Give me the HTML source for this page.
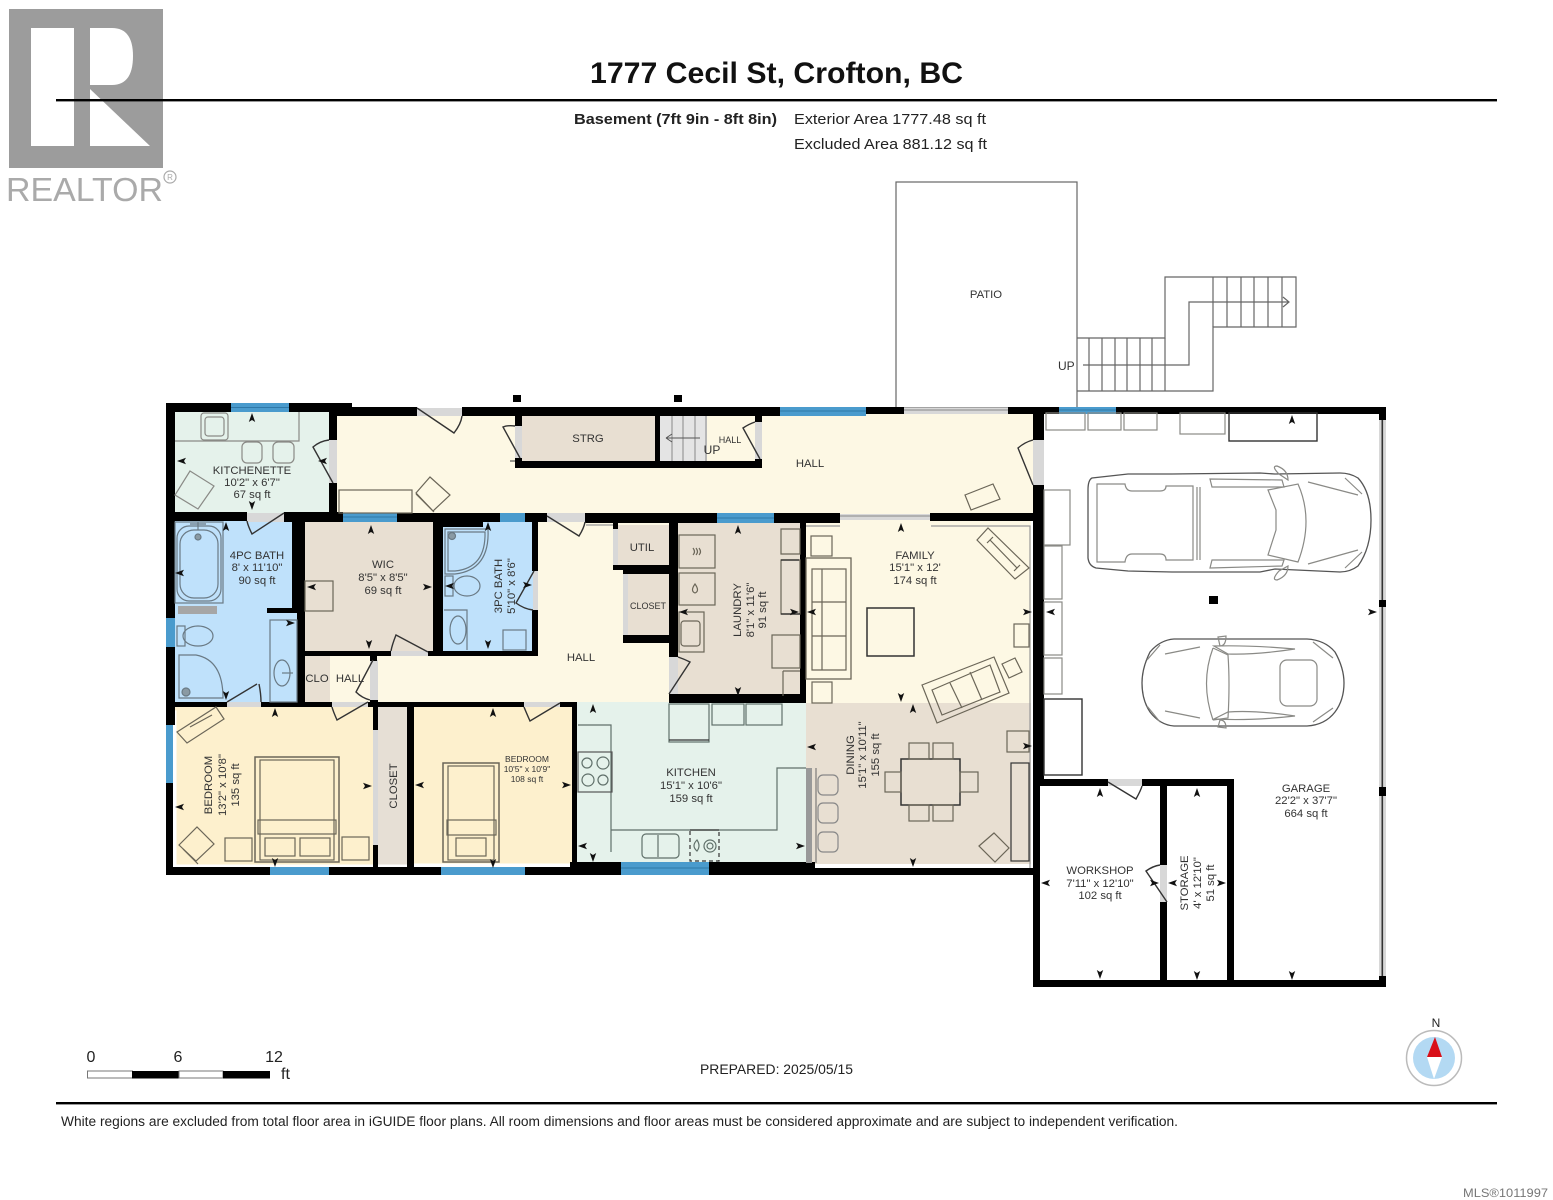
<!DOCTYPE html>
<html><head><meta charset="utf-8"><style>
html,body{margin:0;padding:0;background:#fff;width:1553px;height:1200px;overflow:hidden}
svg{display:block}
text{font-family:"Liberation Sans",sans-serif;fill:#333}
.l{font-size:11.3px;text-anchor:middle}
.f{fill:none;stroke:#6b6658;stroke-width:1.2}
.g{fill:none;stroke:#8a8a86;stroke-width:1.2}
.d{fill:none;stroke:#333;stroke-width:1.4}
.c{fill:none;stroke:#555;stroke-width:1.3}
.w{fill:#000}
.gl{fill:#4a9bcd}
.gy{fill:#d8d8d8}
</style></head><body>
<svg width="1553" height="1200" viewBox="0 0 1553 1200" xmlns="http://www.w3.org/2000/svg">
<defs><path id="a" d="M0,-5L3.2,4L0,2L-3.2,4Z" fill="#111"/></defs>
<rect x="0" y="0" width="1553" height="1200" fill="#fff"/>
<!-- logo -->
<rect x="9" y="9" width="154" height="159" fill="#9c9c9c"/>
<rect x="31" y="28" width="43" height="118" fill="#fff"/>
<path d="M90,28H112Q133,28 133,56Q133,85 112,85H90Z" fill="#fff"/>
<path d="M90,89L150,146H90Z" fill="#fff"/>
<text x="6" y="201" font-size="33" style="fill:#aaa" textLength="157" lengthAdjust="spacingAndGlyphs">REALTOR</text>
<circle cx="170" cy="177" r="6" fill="none" stroke="#aaa" stroke-width="1.2"/>
<text x="170" y="180" font-size="8" text-anchor="middle" style="fill:#aaa">R</text>
<!-- header -->
<text x="776.5" y="83" font-size="29.5" font-weight="bold" text-anchor="middle" style="fill:#111" textLength="373" lengthAdjust="spacingAndGlyphs">1777 Cecil St, Crofton, BC</text>
<rect x="56" y="99" width="1441" height="2.4" fill="#000"/>
<text x="574" y="124" font-size="14.5" font-weight="bold" style="fill:#222" textLength="203" lengthAdjust="spacingAndGlyphs">Basement (7ft 9in - 8ft 8in)</text>
<text x="794" y="124" font-size="14.5" style="fill:#222" textLength="192" lengthAdjust="spacingAndGlyphs">Exterior Area 1777.48 sq ft</text>
<text x="794" y="149" font-size="14.5" style="fill:#222" textLength="193" lengthAdjust="spacingAndGlyphs">Excluded Area 881.12 sq ft</text>
<!-- patio and stairs -->
<rect x="896" y="182" width="181" height="226" fill="#fff" stroke="#666" stroke-width="1.2"/>
<text x="986" y="298" class="l" font-size="11.5">PATIO</text>
<g fill="none" stroke="#666" stroke-width="1.2">
<path d="M1077,338H1165V277H1296V327H1213V391H1077"/>
<path d="M1089,338V391M1102,338V391M1115,338V391M1127,338V391M1140,338V391M1152,338V391M1165,338V391"/>
<path d="M1213,277V327M1227,277V327M1241,277V327M1254,277V327M1268,277V327M1282,277V327"/>
<path d="M1083,365H1189V302H1288M1283,297L1289,302L1283,307"/>
</g>
<text x="1058" y="370" font-size="12">UP</text>
<!-- room fills -->
<g>
<rect x="175" y="412" width="156" height="102" fill="#e5f2eb"/>
<rect x="337" y="414" width="696" height="101" fill="#fdf8e4"/>
<rect x="521" y="416" width="134" height="46" fill="#e8dfd2"/>
<rect x="660" y="416" width="47" height="46" fill="#e4e4e4"/>
<rect x="175" y="520" width="118" height="184" fill="#bfe1fb"/>
<rect x="262" y="612" width="36" height="92" fill="#bfe1fb"/>
<rect x="304" y="522" width="130" height="130" fill="#e8dfd2"/>
<rect x="443" y="521" width="90" height="131" fill="#bfe1fb"/>
<rect x="537" y="520" width="134" height="184" fill="#fdf8e4"/>
<rect x="376" y="655" width="200" height="48" fill="#fdf8e4"/>
<rect x="305" y="655" width="25" height="48" fill="#e8dfd2"/>
<rect x="330" y="655" width="42" height="48" fill="#fdf8e4"/>
<rect x="175" y="706" width="199" height="161" fill="#fdf0cd"/>
<rect x="378" y="706" width="31" height="162" fill="#e6dfd5"/>
<rect x="413" y="706" width="160" height="159" fill="#fdf0cd"/>
<rect x="576" y="702" width="232" height="162" fill="#e5f2eb"/>
<rect x="806" y="703" width="225" height="161" fill="#e8dfd2"/>
<rect x="804" y="520" width="227" height="183" fill="#fdf8e4"/>
<rect x="676" y="523" width="126" height="175" fill="#e8dfd2"/>
<rect x="617" y="525" width="53" height="42" fill="#e8dfd2"/>
<rect x="627" y="572" width="43" height="66" fill="#e8dfd2"/>
</g>
<!-- white strips by bedroom walls -->
<path d="M173,712H175V866H373" fill="none" stroke="#fff" stroke-width="3"/>
<path d="M414,865H572" stroke="#fff" stroke-width="3"/>
<path d="M378,866H408" stroke="#fff" stroke-width="3"/>
<!-- door swing grey thresholds -->
<g class="gy">
<rect x="417" y="408" width="45" height="8"/><rect x="329" y="440" width="8" height="43"/>
<rect x="515" y="426" width="7" height="32"/><rect x="755" y="422" width="7" height="37"/>
<rect x="1033" y="440" width="11" height="45"/><rect x="247" y="513" width="37" height="9"/>
<rect x="547" y="513" width="38" height="9"/><rect x="533" y="571" width="5" height="39"/>
<rect x="391" y="651" width="37" height="5"/><rect x="370" y="660" width="8" height="40"/>
<rect x="227" y="702" width="34" height="5"/><rect x="332" y="702" width="36" height="5"/>
<rect x="524" y="702" width="36" height="5"/><rect x="613" y="529" width="5" height="36"/>
<rect x="623" y="574" width="5" height="61"/><rect x="669" y="657" width="9" height="37"/>
<rect x="1108" y="779" width="34" height="7"/><rect x="1160" y="865" width="7" height="37"/>
<rect x="904" y="408" width="104" height="6"/><rect x="840" y="514" width="90" height="6"/>
<rect x="373" y="730" width="5" height="115"/>
<rect x="1379" y="414" width="7" height="568"/>
</g>
<path d="M904,410H1008M840,516H930" stroke="#888" stroke-width="1"/>
<!-- garage right side -->
<rect x="1381.500" y="414" width="1.6" height="568" fill="#333"/>
<!-- family/dining inner lines -->
<path d="M931,526H1030V868M586,525H616M806,526H840" fill="none" stroke="#999" stroke-width="1.2"/>
<!-- walls -->
<g class="w">
<rect x="166" y="403" width="65" height="9"/><rect x="289" y="403" width="63" height="9"/>
<rect x="330" y="407" width="87" height="9"/><rect x="462" y="407" width="318" height="9"/>
<rect x="866" y="407" width="38" height="7"/><rect x="1008" y="407" width="51" height="7"/>
<rect x="1116" y="407" width="270" height="7"/>
<rect x="1379" y="407" width="7" height="13"/><rect x="1379" y="600" width="7" height="7"/><rect x="1379" y="787" width="7" height="9"/><rect x="1379" y="976" width="7" height="11"/>
<rect x="513" y="395" width="8" height="7"/><rect x="674" y="395" width="8" height="7"/>
<rect x="1209" y="596" width="9" height="8"/>
<!-- left wall -->
<rect x="166" y="403" width="9" height="215"/><rect x="166" y="647" width="9" height="78"/><rect x="166" y="783" width="7" height="92"/>
<!-- bottom -->
<rect x="166" y="867" width="104" height="8"/><rect x="329" y="867" width="112" height="8"/><rect x="525" y="867" width="96" height="8"/>
<rect x="570" y="862" width="51" height="13"/><rect x="709" y="862" width="106" height="13"/><rect x="815" y="868" width="222" height="7"/>
<!-- east wall -->
<rect x="1033" y="407" width="11" height="33"/><rect x="1033" y="485" width="11" height="301"/><rect x="1033" y="786" width="7" height="201"/>
<rect x="1033" y="980" width="353" height="7"/>
<rect x="1040" y="779" width="68" height="7"/><rect x="1142" y="779" width="92" height="7"/>
<rect x="1160" y="786" width="7" height="79"/><rect x="1160" y="902" width="7" height="80"/>
<rect x="1227" y="779" width="7" height="203"/>
<!-- kitchenette right -->
<rect x="329" y="412" width="8" height="28"/><rect x="329" y="483" width="8" height="30"/>
<rect x="175" y="512" width="72" height="9"/><rect x="284" y="512" width="59" height="10"/><rect x="397" y="513" width="103" height="9"/><rect x="525" y="513" width="22" height="9"/>
<rect x="585" y="513" width="132" height="10"/><rect x="774" y="513" width="66" height="10"/><rect x="930" y="513" width="103" height="8"/>
<!-- strg -->
<rect x="515" y="416" width="7" height="10"/><rect x="515" y="458" width="7" height="10"/><rect x="515" y="461" width="247" height="7"/>
<rect x="655" y="416" width="5" height="46"/><rect x="755" y="416" width="7" height="6"/><rect x="755" y="459" width="7" height="6"/>
<!-- 4pc -->
<rect x="292" y="521" width="13" height="92"/><rect x="297" y="612" width="8" height="95"/><rect x="267" y="608" width="30" height="5"/>
<!-- wic -->
<rect x="305" y="651" width="86" height="5"/><rect x="428" y="651" width="110" height="5"/><rect x="433" y="522" width="10" height="134"/>
<rect x="443" y="521" width="40" height="6"/>
<rect x="532" y="522" width="6" height="49"/><rect x="532" y="610" width="6" height="46"/>
<rect x="370" y="656" width="7" height="5"/><rect x="370" y="700" width="8" height="7"/>
<rect x="166" y="702" width="61" height="5"/><rect x="261" y="702" width="71" height="5"/><rect x="368" y="702" width="156" height="5"/><rect x="560" y="702" width="17" height="5"/>
<rect x="373" y="702" width="5" height="28"/><rect x="373" y="845" width="5" height="30"/><rect x="407" y="702" width="7" height="173"/><rect x="572" y="702" width="5" height="173"/>
<!-- laundry -->
<rect x="669" y="523" width="9" height="134"/><rect x="669" y="694" width="136" height="9"/><rect x="800" y="523" width="6" height="180"/>
<rect x="613" y="523" width="5" height="6"/><rect x="613" y="565" width="56" height="5"/><rect x="623" y="570" width="46" height="4"/><rect x="623" y="635" width="46" height="8"/>
</g>
<!-- windows -->
<g class="gl">
<rect x="231" y="403" width="58" height="9"/><rect x="780" y="407" width="86" height="9"/><rect x="1059" y="407" width="57" height="7"/>
<rect x="343" y="513" width="54" height="9"/><rect x="500" y="513" width="25" height="9"/><rect x="717" y="513" width="57" height="10"/>
<rect x="166" y="618" width="9" height="29"/><rect x="166" y="725" width="7" height="58"/>
<rect x="270" y="867" width="59" height="8"/><rect x="441" y="867" width="84" height="8"/><rect x="621" y="862" width="88" height="13"/>
</g>
<path d="M231,407.500H289M780,411H866M1059,410H1116M343,517H397M717,518H774M621,868H709" stroke="#2f78a8" stroke-width="1"/>
<!-- doors -->
<g class="d">
<path d="M417,408L454,433Q461,424 462,416"/>
<path d="M333,483L313,447Q320,441 329,440"/>
<path d="M520,458L503,427Q508,425 515,426"/>
<path d="M760,459L743,428Q749,424 755,422"/>
<path d="M1033,485L1018,448Q1025,442 1033,440"/>
<path d="M284,513L252,534Q248,526 247,521"/>
<path d="M547,516L579,536Q584,528 585,522"/>
<path d="M534,571L516,603Q524,609 533,610"/>
<path d="M428,652L396,635Q392,645 391,651"/>
<path d="M373,660L356,692Q362,698 370,700"/>
<path d="M257,684L227,702"/><path d="M259,684Q261,694 261,702"/>
<path d="M368,702L337,720Q333,711 332,707"/>
<path d="M560,703L530,721Q526,712 524,707"/>
<path d="M1108,782L1136,799Q1141,790 1142,786"/>
<path d="M1167,902L1146,871Q1153,866 1160,865"/>
<path d="M669,694L690,662Q684,659 678,657"/>
</g>
<!-- stairs interior -->
<g fill="none" stroke="#888" stroke-width="1">
<path d="M672,416V461M683,416V461M695,416V461M706,416V461"/>
<path d="M700,438H666M666,438L672,434M666,438L672,442" stroke="#555"/>
</g>
<path d="M510,461H515" stroke="#333"/>
<!-- kitchenette furniture -->
<g class="g">
<path d="M175,441H299V412"/>
<rect x="201" y="413" width="27" height="27" rx="3"/><rect x="205" y="417" width="19" height="19" rx="3"/>
<rect x="242" y="442" width="20" height="21" rx="5"/><rect x="273" y="442" width="21" height="21" rx="5"/>
<path d="M190,471L214,486L198,509L175,495Z"/>
<rect x="339" y="490" width="73" height="23" stroke="#6b6658"/>
<path d="M416,493L430,477L450,495L433,511Z" stroke="#6b6658"/><path d="M416,494L434,512" stroke="#6b6658"/>
</g>
<!-- 4pc bath furniture -->
<g stroke="#6a7a85" fill="none" stroke-width="1.2">
<rect x="175" y="522" width="48" height="81"/>
<rect x="177" y="526" width="44" height="75" rx="12"/><rect x="180" y="530" width="38" height="68" rx="14"/>
<circle cx="198" cy="537" r="3" fill="#8a9aa4"/>
<path d="M190,524H206M198,522V530"/>
<rect x="270" y="620" width="27" height="82"/>
<ellipse cx="282" cy="673" rx="8" ry="13"/><path d="M282,673H293"/>
<rect x="177" y="626" width="8" height="20"/><ellipse cx="198" cy="636" rx="15" ry="10"/>
<path d="M179,655H196Q223,660 223,698H179Z"/>
<circle cx="186" cy="692" r="4" fill="#8a9aa4"/>
</g>
<rect x="178" y="606" width="39" height="8" fill="#a6a6a6"/>
<!-- wic furniture -->
<rect x="305" y="581" width="28" height="30" class="f"/>
<!-- 3pc furniture -->
<g stroke="#6a7a85" fill="none" stroke-width="1.2">
<path d="M445,529H488Q490,570 455,574H445Z"/><path d="M448,532H485Q486,568 455,571H448Z"/>
<circle cx="452" cy="536" r="3.500" fill="#8a9aa4"/>
<rect x="445" y="576" width="8" height="20"/><ellipse cx="467" cy="586" rx="13" ry="10"/>
<path d="M444,610H467V650"/>
<ellipse cx="458" cy="630" rx="8" ry="14"/>
<rect x="503" y="630" width="23" height="20"/>
</g>
<!-- bedroom 1 furniture -->
<g class="f">
<path d="M177,732L216,707L224,719L187,743Z"/><path d="M190,727L212,715"/>
<rect x="255" y="757" width="84" height="105" stroke-width="1.500"/><rect x="260" y="760" width="74" height="100"/>
<rect x="258" y="820" width="78" height="14"/>
<rect x="265" y="838" width="30" height="18"/><rect x="300" y="838" width="30" height="18"/>
<rect x="225" y="838" width="27" height="23"/><rect x="342" y="837" width="27" height="23"/>
<path d="M179,845L197,827L214,844L196,861Z"/><path d="M183,849L198,864"/>
</g>
<!-- bedroom 2 furniture -->
<g class="f">
<rect x="443" y="763" width="56" height="99" stroke-width="1.500"/><rect x="448" y="766" width="46" height="94"/>
<rect x="447" y="820" width="49" height="15"/><rect x="456" y="838" width="30" height="18"/>
</g>
<!-- kitchen furniture -->
<g stroke="#60706a" fill="none" stroke-width="1.2">
<path d="M578,725H611V852M611,792V830H777V768H806"/>
<rect x="578" y="752" width="34" height="40" stroke="#555"/>
<circle cx="587" cy="763" r="5"/><circle cx="603" cy="763" r="6"/><circle cx="588" cy="780" r="6"/><circle cx="603" cy="780" r="5"/>
<rect x="669" y="704" width="40" height="38"/><path d="M669,740H709" stroke="#333"/>
<rect x="712" y="704" width="32" height="21"/><rect x="746" y="704" width="36" height="21"/>
<rect x="642" y="834" width="37" height="24" rx="4"/><path d="M658,835V857"/>
<path d="M690,831V861H719V831" stroke-dasharray="4 3" stroke="#333"/><path d="M690,830H719" stroke="#333"/>
<circle cx="710" cy="846" r="6"/><circle cx="710" cy="846" r="3"/><path d="M697,840Q691,846 697,851Q701,846 697,840Z"/>
</g>
<rect x="806" y="768" width="6" height="95" fill="#999"/>
<path d="M816,768V863" stroke="#666"/>
<!-- dining -->
<g class="f">
<rect x="901" y="759" width="59" height="46" stroke="#333" stroke-width="1.500"/>
<rect x="909" y="743" width="20" height="16"/><rect x="933" y="743" width="20" height="16"/>
<rect x="909" y="805" width="20" height="16"/><rect x="933" y="805" width="20" height="16"/>
<rect x="885" y="772" width="16" height="20"/><rect x="960" y="772" width="18" height="20"/>
<rect x="818" y="775" width="20" height="20" rx="5" stroke="#888"/><rect x="818" y="803" width="20" height="20" rx="5" stroke="#888"/><rect x="818" y="832" width="20" height="20" rx="5" stroke="#888"/>
<rect x="1007" y="731" width="22" height="21"/>
<rect x="1011" y="763" width="18" height="98" stroke="#333"/>
<path d="M979,846L994,833L1009,848L995,862Z"/>
</g>
<!-- family furniture -->
<g class="f">
<rect x="811" y="536" width="21" height="20"/><rect x="812" y="682" width="20" height="21"/>
<rect x="806" y="558" width="45" height="121" stroke-width="1.300"/><path d="M812,569H846V670H812ZM822,569V670M812,602H846M812,636H846"/>
<rect x="867" y="608" width="47" height="48" stroke="#333" stroke-width="1.500"/>
<path d="M977,540L988,528L1029,568L1015,579Z"/><path d="M990,540L1017,568M987,543L993,537M1014,571L1020,565"/>
<rect x="1014" y="624" width="15" height="23"/>
<path d="M922,685L994,657L1009,693L937,723Z"/><path d="M932,690L990,665L1000,692L942,715ZM950,683L962,708M970,672L982,700"/>
<path d="M1002,664L1015,658L1022,672L1009,678Z"/>
</g>
<!-- laundry furniture -->
<g class="f">
<rect x="679" y="535" width="36" height="33"/><rect x="679" y="573" width="36" height="32"/>
<rect x="679" y="612" width="25" height="40"/><rect x="681" y="621" width="19" height="25" rx="3"/>
<path d="M781,529H800V554H781ZM781,560H800V614H781Z"/><path d="M781,560H799" stroke="#222"/><path d="M781,614H800" stroke="#222"/>
<rect x="772" y="635" width="28" height="33"/>
<path d="M783,671V696M800,671H783"/>
<path d="M693,555Q696,552 693,548M696,555Q699,552 696,548M699,555Q702,552 699,548"/>
<path d="M695,584Q690,591 695,593Q700,591 695,584Z"/>
</g>
<!-- hall furniture -->
<path d="M965,495L993,484L1000,499L971,510Z" class="f"/>
<!-- garage furniture -->
<g class="g">
<rect x="1046" y="413" width="39" height="17"/><rect x="1088" y="413" width="33" height="17"/><rect x="1124" y="413" width="33" height="17"/><rect x="1180" y="413" width="45" height="21"/>
<rect x="1044" y="490" width="26" height="55"/><rect x="1044" y="546" width="18" height="53"/><rect x="1044" y="602" width="18" height="53"/><rect x="1044" y="658" width="18" height="36"/>
</g>
<rect x="1229" y="413" width="88" height="28" class="d"/>
<rect x="1044" y="699" width="38" height="76" class="d"/>
<!-- truck -->
<path d="M1092,478Q1088,480 1088,490L1088,558Q1089,566 1096,568L1128,571L1172,572L1260,572L1275,569L1340,572Q1350,572 1358,566Q1371,548 1371,520Q1371,492 1358,478Q1350,473 1340,473L1275,474L1260,473L1172,474L1128,474Z" class="c" stroke-width="1.500"/>
<g class="g">
<path d="M1097,484H1125Q1126,491 1132,491H1160Q1166,491 1166,486H1193V560H1166Q1166,554 1160,554H1132Q1126,554 1125,562H1097Z"/>
<path d="M1197,487V560M1200,487L1200,560"/>
<path d="M1210,479L1282,480L1284,487L1212,487ZM1210,568L1282,566L1284,560L1212,560Z"/>
<path d="M1268,490L1298,484Q1314,520 1298,562L1268,555L1276,530V510Z"/>
<path d="M1308,482L1358,495M1308,564L1358,550M1345,478L1362,494M1345,568L1362,552"/>
<path d="M1279,474Q1271,466 1277,466Q1288,470 1288,480L1279,474ZM1279,571Q1271,580 1277,580Q1288,576 1288,566Z"/>
</g>
<!-- car -->
<path d="M1174,639L1307,639Q1325,640 1335,652Q1344,668 1344,683Q1344,700 1335,712Q1325,725 1307,726L1174,726Q1160,725 1150,712Q1142,700 1142,683Q1142,668 1150,652Q1160,640 1174,639Z" class="c" stroke-width="1.500"/>
<g class="g">
<path d="M1213,648Q1200,683 1213,720M1213,648L1228,655Q1230,683 1228,718L1213,720"/>
<rect x="1280" y="660" width="37" height="46" rx="7"/>
<path d="M1214,646Q1250,645 1295,649Q1255,655 1228,654ZM1214,719Q1250,721 1295,716Q1255,710 1228,712Z"/>
<path d="M1165,654L1200,647M1165,711L1200,718M1313,642L1333,658M1313,722L1333,708M1147,660L1160,645M1147,706L1160,722"/>
<path d="M1218,637L1226,636Q1226,646 1220,646ZM1218,727L1226,728Q1226,720 1220,720Z"/>
</g>
<!-- labels -->
<g class="l">
<text x="252" y="474">KITCHENETTE</text><text x="252" y="486">10'2" x 6'7"</text><text x="252" y="498">67 sq ft</text>
<text x="257" y="559">4PC BATH</text><text x="257" y="571">8' x 11'10"</text><text x="257" y="584">90 sq ft</text>
<text x="383" y="568">WIC</text><text x="383" y="581">8'5" x 8'5"</text><text x="383" y="594">69 sq ft</text>
<text x="588" y="442">STRG</text>
<text x="730" y="443" font-size="9">HALL</text>
<text x="712" y="454" font-size="12">UP</text>
<text x="810" y="467">HALL</text>
<text x="581" y="661">HALL</text>
<text x="317" y="682">CLO</text><text x="350" y="682">HALL</text>
<text x="642" y="551">UTIL</text>
<text x="648" y="609" font-size="9">CLOSET</text>
<text x="915" y="559">FAMILY</text><text x="915" y="571">15'1" x 12'</text><text x="915" y="584">174 sq ft</text>
<text x="691" y="776">KITCHEN</text><text x="691" y="789">15'1" x 10'6"</text><text x="691" y="802">159 sq ft</text>
<text x="527" y="762" font-size="8.500">BEDROOM</text><text x="527" y="772" font-size="8.500">10'5" x 10'9"</text><text x="527" y="782" font-size="8.500">108 sq ft</text>
<text x="1100" y="874">WORKSHOP</text><text x="1100" y="887">7'11" x 12'10"</text><text x="1100" y="899">102 sq ft</text>
<text x="1306" y="792">GARAGE</text><text x="1306" y="804">22'2" x 37'7"</text><text x="1306" y="817">664 sq ft</text>
<text transform="translate(212,785) rotate(-90)">BEDROOM</text><text transform="translate(226,785) rotate(-90)">13'2" x 10'8"</text><text transform="translate(239,785) rotate(-90)">135 sq ft</text>
<text transform="translate(397,786) rotate(-90)">CLOSET</text>
<text transform="translate(502,586) rotate(-90)">3PC BATH</text><text transform="translate(515,586) rotate(-90)">5'10" x 8'6"</text>
<text transform="translate(741,610) rotate(-90)">LAUNDRY</text><text transform="translate(754,610) rotate(-90)">8'1" x 11'6"</text><text transform="translate(766,610) rotate(-90)">91 sq ft</text>
<text transform="translate(854,755) rotate(-90)">DINING</text><text transform="translate(866,755) rotate(-90)">15'1" x 10'11"</text><text transform="translate(879,755) rotate(-90)">155 sq ft</text>
<text transform="translate(1188,883) rotate(-90)">STORAGE</text><text transform="translate(1201,883) rotate(-90)">4' x 12'10"</text><text transform="translate(1214,883) rotate(-90)">51 sq ft</text>
</g>
<!-- dimension arrows -->
<g>
<use href="#a" transform="translate(252,418)"/><use href="#a" transform="translate(182,461) rotate(-90)"/><use href="#a" transform="translate(252,505) rotate(180)"/><use href="#a" transform="translate(323,461) rotate(-90)"/>
<use href="#a" transform="translate(226,527)"/><use href="#a" transform="translate(180,573) rotate(-90)"/><use href="#a" transform="translate(290,623) rotate(90)"/><use href="#a" transform="translate(226,695) rotate(180)"/>
<use href="#a" transform="translate(371,530)"/><use href="#a" transform="translate(312,587) rotate(-90)"/><use href="#a" transform="translate(427,587) rotate(90)"/><use href="#a" transform="translate(369,644) rotate(180)"/>
<use href="#a" transform="translate(488,527)"/><use href="#a" transform="translate(450,586) rotate(-90)"/><use href="#a" transform="translate(527,585) rotate(90)"/><use href="#a" transform="translate(488,644) rotate(180)"/>
<use href="#a" transform="translate(275,713)"/><use href="#a" transform="translate(180,807) rotate(-90)"/><use href="#a" transform="translate(367,786) rotate(90)"/><use href="#a" transform="translate(275,862) rotate(180)"/>
<use href="#a" transform="translate(493,713)"/><use href="#a" transform="translate(420,785) rotate(-90)"/><use href="#a" transform="translate(566,785) rotate(90)"/><use href="#a" transform="translate(493,863) rotate(180)"/>
<use href="#a" transform="translate(593,709)"/><use href="#a" transform="translate(583,846) rotate(-90)"/><use href="#a" transform="translate(593,857) rotate(180)"/><use href="#a" transform="translate(800,846) rotate(90)"/>
<use href="#a" transform="translate(812,747) rotate(-90)"/><use href="#a" transform="translate(913,709)"/><use href="#a" transform="translate(1027,746) rotate(90)"/><use href="#a" transform="translate(913,862) rotate(180)"/>
<use href="#a" transform="translate(738,530)"/><use href="#a" transform="translate(684,612) rotate(-90)"/><use href="#a" transform="translate(794,612) rotate(90)"/><use href="#a" transform="translate(738,691) rotate(180)"/>
<use href="#a" transform="translate(901,528)"/><use href="#a" transform="translate(812,612) rotate(-90)"/><use href="#a" transform="translate(1027,612) rotate(90)"/><use href="#a" transform="translate(901,697) rotate(180)"/>
<use href="#a" transform="translate(1292,420)"/><use href="#a" transform="translate(1051,612) rotate(-90)"/><use href="#a" transform="translate(1372,612) rotate(90)"/><use href="#a" transform="translate(1292,975) rotate(180)"/>
<use href="#a" transform="translate(1100,793)"/><use href="#a" transform="translate(1046,883) rotate(-90)"/><use href="#a" transform="translate(1154,883) rotate(90)"/><use href="#a" transform="translate(1100,974) rotate(180)"/>
<use href="#a" transform="translate(1197,793)"/><use href="#a" transform="translate(1173,883) rotate(-90)"/><use href="#a" transform="translate(1221,883) rotate(90)"/><use href="#a" transform="translate(1197,975) rotate(180)"/>
</g>
<!-- scale -->
<text x="91" y="1062" font-size="16" text-anchor="middle" style="fill:#222">0</text>
<text x="178" y="1062" font-size="16" text-anchor="middle" style="fill:#222">6</text>
<text x="274" y="1062" font-size="16" text-anchor="middle" style="fill:#222">12</text>
<text x="281" y="1079" font-size="16" style="fill:#222">ft</text>
<rect x="87.500" y="1071" width="45" height="7" fill="#fff" stroke="#777"/>
<rect x="132" y="1071" width="47" height="7.500" fill="#000"/>
<rect x="179" y="1071" width="44" height="7" fill="#fff" stroke="#777"/>
<rect x="223" y="1071" width="47" height="7.500" fill="#000"/>
<text x="776.500" y="1074" font-size="13.500" text-anchor="middle" style="fill:#222" textLength="153" lengthAdjust="spacingAndGlyphs">PREPARED: 2025/05/15</text>
<!-- compass -->
<text x="1436" y="1027" font-size="12" text-anchor="middle" style="fill:#222">N</text>
<circle cx="1434" cy="1058" r="27.500" fill="#fff" stroke="#bbb" stroke-width="1.500"/>
<circle cx="1434" cy="1058" r="21" fill="#b3d9f3"/>
<path d="M1435,1037L1427,1057H1442Z" fill="#d90f18"/>
<path d="M1427,1057H1442L1434,1079Z" fill="#fff"/>
<!-- footer -->
<rect x="56" y="1102" width="1441" height="2.400" fill="#000"/>
<text x="61" y="1126" font-size="13.500" style="fill:#222" textLength="1117" lengthAdjust="spacingAndGlyphs">White regions are excluded from total floor area in iGUIDE floor plans. All room dimensions and floor areas must be considered approximate and are subject to independent verification.</text>
<text x="1463" y="1197" font-size="12" style="fill:#777" textLength="85" lengthAdjust="spacingAndGlyphs">MLS®1011997</text>
</svg>
</body></html>
